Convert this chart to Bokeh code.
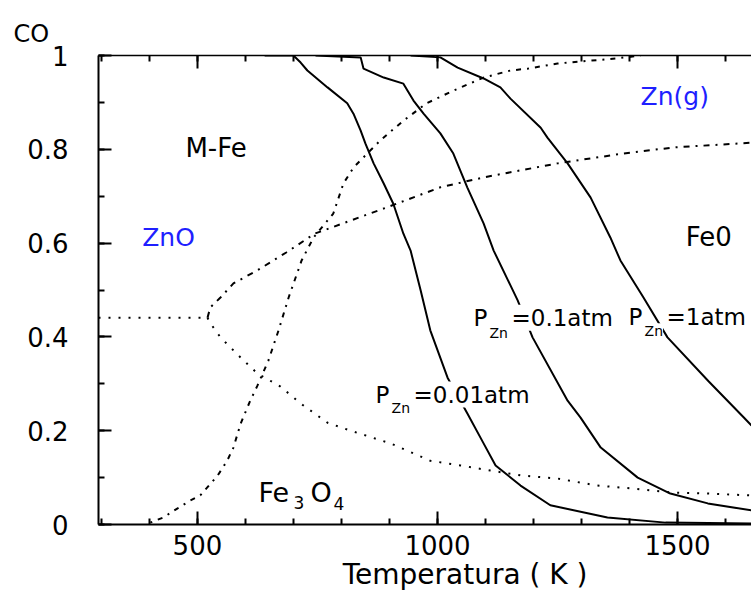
from bokeh.plotting import figure
from bokeh.models import Range1d, LinearAxis, FixedTicker, Label, Title
from bokeh.embed import file_html
from bokeh.resources import INLINE

# ---- data ----
T_p001 = [640, 700, 715, 729, 771, 812, 825, 840, 850, 867, 888, 908, 929, 944, 965, 985,
          1021, 1062, 1096, 1121, 1173, 1235, 1354, 1475, 1654]
CO_p001 = [1.0, 1.0, 0.985, 0.968, 0.932, 0.898, 0.876, 0.840, 0.812, 0.770, 0.727, 0.684,
           0.620, 0.584, 0.499, 0.414, 0.313, 0.237, 0.173, 0.126, 0.083, 0.041, 0.015, 0.004, 0.002]

T_p01 = [746, 840, 846, 888, 929, 950, 971, 1006, 1033, 1062, 1096, 1117, 1167, 1198, 1271,
         1298, 1340, 1417, 1485, 1563, 1654]
CO_p01 = [1.0, 0.996, 0.972, 0.953, 0.940, 0.904, 0.876, 0.834, 0.791, 0.719, 0.642, 0.584,
          0.478, 0.399, 0.264, 0.228, 0.164, 0.100, 0.066, 0.045, 0.030]

T_p1 = [944, 1006, 1042, 1096, 1131, 1152, 1215, 1229, 1271, 1319, 1360, 1381, 1429, 1479,
        1565, 1638, 1654]
CO_p1 = [1.0, 0.996, 0.974, 0.951, 0.932, 0.908, 0.846, 0.825, 0.770, 0.697, 0.612, 0.563,
         0.484, 0.399, 0.305, 0.228, 0.211]

T_zno = [294, 521]
CO_zno = [0.441, 0.441]

T_upper = [521, 527, 548, 575, 625, 685, 744, 894, 1006, 1096, 1152, 1250, 1387, 1492, 1654]
CO_upper = [0.441, 0.463, 0.484, 0.514, 0.542, 0.580, 0.620, 0.676, 0.719, 0.740, 0.751,
            0.770, 0.791, 0.804, 0.814]

T_lower = [521, 527, 548, 590, 625, 673, 715, 771, 819, 902, 985, 1048, 1110, 1179, 1250,
           1333, 1402, 1492, 1563, 1654]
CO_lower = [0.441, 0.429, 0.399, 0.356, 0.322, 0.294, 0.258, 0.217, 0.200, 0.173, 0.136,
            0.126, 0.115, 0.104, 0.098, 0.083, 0.077, 0.068, 0.066, 0.062]

T_fe3o4 = [402, 429, 458, 485, 506, 542, 562, 575, 590, 610, 625, 648, 669, 690, 717, 742,
           783, 804, 825, 846, 881, 929, 977, 1033, 1096, 1152, 1188, 1250, 1319, 1375, 1423]
CO_fe3o4 = [0.004, 0.015, 0.034, 0.051, 0.062, 0.104, 0.136, 0.164, 0.215, 0.264, 0.296,
            0.350, 0.414, 0.484, 0.563, 0.612, 0.663, 0.727, 0.761, 0.783, 0.819, 0.861,
            0.898, 0.925, 0.953, 0.968, 0.972, 0.983, 0.989, 0.994, 1.0]

x_major = [500, 1000, 1500]
x_minor = list(range(300, 1700, 100))
y_major = [0, 0.2, 0.4, 0.6, 0.8, 1.0]
y_minor = [0, 0.1, 0.2, 0.3, 0.4, 0.5, 0.6, 0.7, 0.8, 0.9, 1.0]

FONT = "DejaVu Sans"
BLUE = "#1f1fff"
NB = "\u00a0"

p = figure(width=751, height=600, output_backend="svg", toolbar_location=None,
           x_range=Range1d(294, 1654), y_range=Range1d(0, 1.0),
           min_border_left=98, min_border_right=0, min_border_top=55, min_border_bottom=76)
p.xgrid.visible = False
p.ygrid.visible = False
p.outline_line_color = None
p.background_fill_color = "white"
p.border_fill_color = "white"


def style_axis(ax, major, minor, width=2):
    ax.ticker = FixedTicker(ticks=major, minor_ticks=minor)
    ax.major_tick_in = 13
    ax.major_tick_out = 0
    ax.minor_tick_in = 6
    ax.minor_tick_out = 0
    ax.axis_line_width = width
    ax.major_tick_line_width = 2
    ax.minor_tick_line_width = 2
    ax.axis_line_color = "black"
    ax.major_tick_line_color = "black"
    ax.minor_tick_line_color = "black"
    ax.major_label_text_font = FONT
    ax.major_label_text_font_size = "26px"
    ax.major_label_text_color = "black"


xa = p.xaxis[0]
style_axis(xa, x_major, x_minor)
xa.major_label_standoff = 10
xa.axis_label = NB * 9 + "Temperatura ( K )"
xa.axis_label_text_font = FONT
xa.axis_label_text_font_size = "28px"
xa.axis_label_text_font_style = "normal"
xa.axis_label_text_color = "black"
xa.axis_label_standoff = 0

ya = p.yaxis[0]
style_axis(ya, y_major, y_minor)
ya.major_label_standoff = 30

top = LinearAxis()
style_axis(top, x_major, x_minor, width=1.5)
top.major_label_overrides = {500: "", 1000: "", 1500: ""}
top.major_label_standoff = 0
p.add_layout(top, "above")

p.add_layout(Title(text="CO", align="left", offset=-85, text_font=FONT,
                   text_font_size="24px", text_font_style="normal",
                   text_color="black", standoff=16), "above")

# ---- curves ----
p.line(T_p001, CO_p001, line_color="black", line_width=2)
p.line(T_p01, CO_p01, line_color="black", line_width=2)
p.line(T_p1, CO_p1, line_color="black", line_width=2)

p.line(T_zno, CO_zno, line_color="black", line_width=2, line_dash="2 8")
p.line(T_lower, CO_lower, line_color="black", line_width=2, line_dash="2 8")
p.line(T_upper, CO_upper, line_color="black", line_width=2, line_dash="6 6 2 6")
p.line(T_fe3o4, CO_fe3o4, line_color="black", line_width=2, line_dash="2 6 5 6")


def txt(x, y, text, size, color="black", xoff=0, style="normal", bg=None, align="left"):
    p.add_layout(Label(x=x, y=y, text=text, x_offset=xoff, text_font=FONT,
                       text_font_size=f"{size}px", text_color=color,
                       text_baseline="middle", text_align=align,
                       text_font_style=style, background_fill_color=bg))


# region labels
txt(475, 0.802, "M-Fe", 26)
txt(385, 0.612, "ZnO", 25, color=BLUE)
txt(1423, 0.913, "Zn(g)", 25, color=BLUE)
txt(1517, 0.614, "Fe0", 26)
txt(627, 0.068, "Fe", 27)
txt(627, 0.047, "3", 17, xoff=35)
txt(627, 0.068, "O", 27, xoff=52)
txt(627, 0.045, "4", 17, xoff=75)

# pressure labels
for (xp, yp, ys, rest) in [(871, 0.277, 0.249, "=0.01atm"),
                           (1075, 0.441, 0.409, "=0.1atm"),
                           (1398, 0.443, 0.412, "=1atm")]:
    txt(xp, yp, "P", 23, bg="white")
    txt(xp, ys, "Zn", 14, xoff=16, bg="white")
    txt(xp, yp, rest, 23, xoff=38, bg="white")

open("out.html", "w").write(file_html(p, INLINE))
